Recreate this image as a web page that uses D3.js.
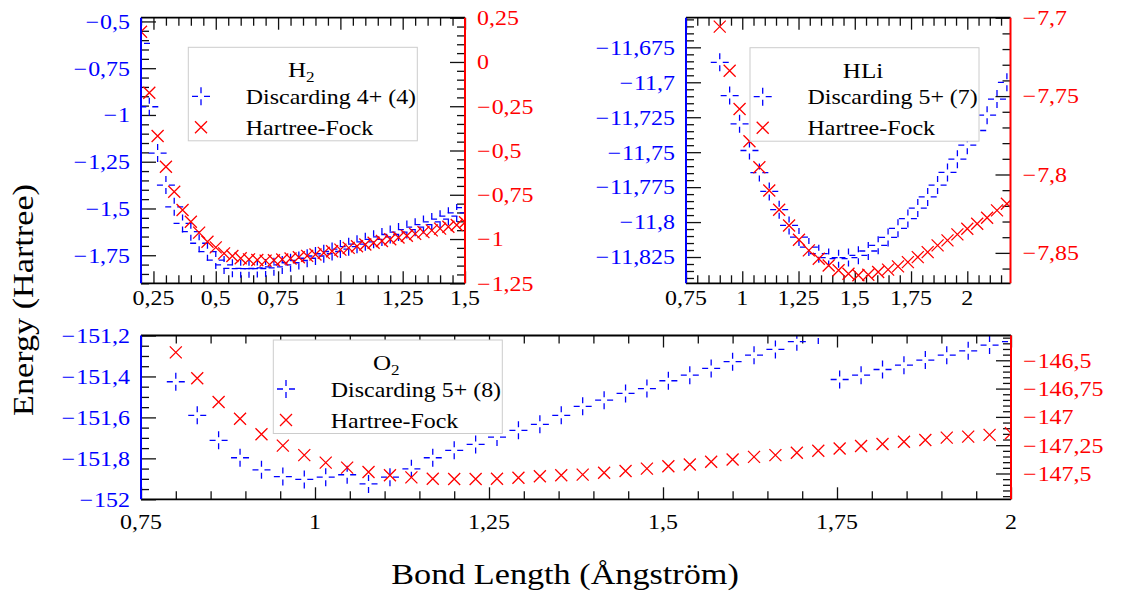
<!DOCTYPE html>
<html>
<head>
<meta charset="utf-8">
<script src="https://cdn.jsdelivr.net/npm/d3@7"></script>
<style>
  body { margin: 0; background: #fff; }
  svg { display: block; }
</style>
</head>
<body>
<svg id="chart" width="1124" height="594"></svg>
<script>
// ---------- H2 ----------
const h2Bond = [0.2, 0.2333, 0.2667, 0.3, 0.3333, 0.3667, 0.4, 0.4333, 0.4667, 0.5,
  0.5333, 0.5667, 0.6, 0.6333, 0.6667, 0.7, 0.7333, 0.7667, 0.8, 0.8333,
  0.8667, 0.9, 0.9333, 0.9667, 1.0, 1.0333, 1.0667, 1.1, 1.1333, 1.1667,
  1.2, 1.2333, 1.2667, 1.3, 1.3333, 1.3667, 1.4, 1.4333, 1.4667, 1.5];
const h2Discard = [-0.617, -0.956, -1.204, -1.375, -1.491, -1.580, -1.624, -1.686, -1.731, -1.776,
  -1.802, -1.820, -1.822, -1.822, -1.821, -1.818, -1.812, -1.802, -1.790, -1.778,
  -1.766, -1.754, -1.742, -1.730, -1.717, -1.704, -1.691, -1.678, -1.665, -1.652,
  -1.639, -1.626, -1.613, -1.600, -1.586, -1.572, -1.557, -1.541, -1.524, -1.495];
const h2HF = [0.171, -0.174, -0.418, -0.592, -0.733, -0.836, -0.902, -0.964, -1.015, -1.047,
  -1.081, -1.096, -1.109, -1.115, -1.118, -1.122, -1.120, -1.116, -1.110, -1.103,
  -1.095, -1.087, -1.078, -1.069, -1.060, -1.050, -1.041, -1.031, -1.021, -1.011,
  -1.001, -0.991, -0.981, -0.971, -0.961, -0.951, -0.941, -0.931, -0.921, -0.905];
const h2XTicks = [0.25, 0.5, 0.75, 1, 1.25, 1.5];
const h2LeftTicks = [-1.75, -1.5, -1.25, -1, -0.75, -0.5];
const h2RightTicks = [-1.25, -1, -0.75, -0.5, -0.25, 0, 0.25];

// ---------- HLi ----------
const hliBond = [0.9, 0.944, 0.988, 1.032, 1.076, 1.12, 1.164, 1.208, 1.252, 1.296,
  1.34, 1.384, 1.428, 1.472, 1.516, 1.56, 1.604, 1.648, 1.692, 1.736,
  1.78, 1.824, 1.868, 1.912, 1.956, 2.0, 2.044, 2.088, 2.132, 2.176];
const hliDiscard = [-11.6857, -11.7095, -11.7297, -11.7488, -11.7646, -11.7781, -11.7911, -11.8024, -11.8107, -11.8179,
  -11.8226, -11.8254, -11.8262, -11.8254, -11.8238, -11.8207, -11.8166, -11.8110, -11.8045, -11.7975,
  -11.7900, -11.7820, -11.7735, -11.7645, -11.7550, -11.7450, -11.7345, -11.7235, -11.7120, -11.7000];
const hliHF = [-7.7057, -7.7338, -7.7582, -7.7788, -7.7954, -7.8102, -7.8225, -7.8325, -7.8416, -7.8484,
  -7.8537, -7.8580, -7.8611, -7.8633, -7.8643, -7.8640, -7.8622, -7.8607, -7.8586, -7.8559,
  -7.8527, -7.8495, -7.8452, -7.8420, -7.8382, -7.8346, -7.8314, -7.8276, -7.8229, -7.8187];
const hliXTicks = [0.75, 1, 1.25, 1.5, 1.75, 2];
const hliLeftTicks = [-11.825, -11.8, -11.775, -11.75, -11.725, -11.7, -11.675];
const hliRightTicks = [-7.85, -7.8, -7.75, -7.7];

// ---------- O2 ----------
const o2Bond = [0.8, 0.8308, 0.8615, 0.8923, 0.9231, 0.9538, 0.9846, 1.0154, 1.0462, 1.0769,
  1.1077, 1.1385, 1.1692, 1.2, 1.2308, 1.2615, 1.2923, 1.3231, 1.3538, 1.3846,
  1.4154, 1.4462, 1.4769, 1.5077, 1.5385, 1.5692, 1.6, 1.6308, 1.6615, 1.6923,
  1.7231, 1.7538, 1.7846, 1.8154, 1.8462, 1.8769, 1.9077, 1.9385, 1.9692, 2.0];
const o2Discard = [-151.426, -151.590, -151.712, -151.797, -151.856, -151.889, -151.903, -151.892, -151.880, -151.925,
  -151.892, -151.851, -151.797, -151.761, -151.732, -151.696, -151.663, -151.634, -151.590, -151.546,
  -151.516, -151.483, -151.459, -151.421, -151.394, -151.361, -151.328, -151.296, -151.268, -151.230,
  -151.198, -151.415, -151.394, -151.366, -151.345, -151.320, -151.296, -151.275, -151.247, -151.230];
const o2HF = [-146.430, -146.659, -146.868, -147.016, -147.154, -147.254, -147.338, -147.404, -147.448, -147.487,
  -147.516, -147.534, -147.546, -147.549, -147.549, -147.546, -147.537, -147.525, -147.516, -147.510,
  -147.493, -147.478, -147.457, -147.436, -147.421, -147.397, -147.377, -147.353, -147.338, -147.317,
  -147.299, -147.279, -147.257, -147.239, -147.219, -147.204, -147.183, -147.174, -147.159, -147.145];
const o2XTicks = [0.75, 1, 1.25, 1.5, 1.75, 2];
const o2LeftTicks = [-152, -151.8, -151.6, -151.4, -151.2];
const o2RightTicks = [-147.5, -147.25, -147, -146.75, -146.5];

const seriesNames = ["Hartree-Fock"];

const BLUE = "#0000ff", RED = "#ff0000", INK = "#000";
const FONT = "'Liberation Serif', 'DejaVu Serif', serif";
const SX = 1.14;   // the serif face is set a little wide
const svg = d3.select("#chart");
const defs = svg.append("defs");

// text placed at (x, y), widened horizontally by SX
function wideText(parent, x, y, size, fill, anchor, extra) {
  const g = parent.append("g").attr("transform", `translate(${x},${y}) ${extra || ""} scale(${SX},1)`);
  return g.append("text").attr("x", 0).attr("y", 0)
    .attr("text-anchor", anchor).attr("font-size", size)
    .attr("font-family", FONT).attr("fill", fill);
}

// number -> "−1,25" with a math minus and a decimal comma
function tickText(sel, v) {
  const s = String(+Math.abs(v).toFixed(4)).replace(".", ",");
  if (v < 0) {
    sel.append("tspan").text("\u2212");
    sel.append("tspan").attr("dx", 1).text(s);
  } else {
    sel.append("tspan").text(s);
  }
}

function minorRange(lo, hi, step, majors) {
  const out = [];
  const start = Math.ceil(lo / step - 1e-6) * step;
  const n = Math.floor((hi - start) / step + 1e-6);
  for (let i = 0; i <= n; i++) {
    const v = +(start + i * step).toFixed(6);
    if (!majors.some(m => Math.abs(m - v) < step / 10)) out.push(v);
  }
  return out;
}

function plusMark(g, cx, cy) {
  const a = 3, b = 9;
  g.append("path")
    .attr("d", `M${cx - b},${cy}H${cx - a}M${cx + a},${cy}H${cx + b}M${cx},${cy - b}V${cy - a}M${cx},${cy + a}V${cy + b}`)
    .attr("stroke", BLUE).attr("stroke-width", 1.3).attr("fill", "none");
}
function crossMark(g, cx, cy) {
  const r = 6;
  g.append("path")
    .attr("d", `M${cx - r},${cy - r}L${cx + r},${cy + r}M${cx - r},${cy + r}L${cx + r},${cy - r}`)
    .attr("stroke", RED).attr("stroke-width", 1.3).attr("fill", "none");
}

function panel(c) {
  const g = svg.append("g");
  const x = d3.scaleLinear().domain(c.xDomain).range([c.left, c.right]);
  const yL = d3.scaleLinear().domain(c.yLDomain).range([c.bottom, c.top]);
  const yR = d3.scaleLinear().domain(c.yRDomain).range([c.bottom, c.top]);

  const clipId = "clip-" + c.id;
  defs.append("clipPath").attr("id", clipId).append("rect")
    .attr("x", c.left).attr("y", c.top)
    .attr("width", c.right - c.left).attr("height", c.bottom - c.top);

  // ticks pointing inward on all four sides
  const tickG = g.append("g");
  const xMin = minorRange(c.xDomain[0], c.xDomain[1], c.xMinor, c.xTicks);
  const lMin = minorRange(c.yLDomain[0], c.yLDomain[1], c.yLMinor, c.yLTicks);
  const rMin = minorRange(c.yRDomain[0], c.yRDomain[1], c.yRMinor, c.yRTicks);
  const specs = [
    [() => d3.axisBottom(x), `translate(0,${c.bottom})`, c.xTicks, xMin, c.xMajorLen],
    [() => d3.axisTop(x), `translate(0,${c.top})`, c.xTicks, xMin, c.xMajorLen],
    [() => d3.axisLeft(yL), `translate(${c.left},0)`, c.yLTicks, lMin, c.yMajorLen],
    [() => d3.axisRight(yR), `translate(${c.right},0)`, c.yRTicks, rMin, c.yMajorLen],
  ];
  specs.forEach(([make, tr, maj, mins, len]) => {
    tickG.append("g").attr("transform", tr)
      .call(make().tickValues(maj).tickSize(-len).tickFormat(""));
    tickG.append("g").attr("transform", tr)
      .call(make().tickValues(mins).tickSize(-c.minorLen).tickFormat(""));
  });
  tickG.selectAll(".domain").remove();
  tickG.selectAll(".tick line").attr("stroke", "#111").attr("stroke-width", 1.3);

  // data markers, clipped to the plot area
  const dg = g.append("g").attr("clip-path", `url(#${clipId})`);
  c.bond.forEach((b, i) => plusMark(dg, x(b), yL(c.discard[i])));
  c.bond.forEach((b, i) => crossMark(dg, x(b), yR(c.hf[i])));

  // frame: black top/bottom, blue left, red right
  g.append("line").attr("x1", c.left).attr("x2", c.right).attr("y1", c.top).attr("y2", c.top)
    .attr("stroke", INK).attr("stroke-width", 1.8);
  g.append("line").attr("x1", c.left).attr("x2", c.right).attr("y1", c.bottom).attr("y2", c.bottom)
    .attr("stroke", INK).attr("stroke-width", 1.8);
  g.append("line").attr("x1", c.left).attr("x2", c.left).attr("y1", c.top).attr("y2", c.bottom)
    .attr("stroke", BLUE).attr("stroke-width", 2);
  g.append("line").attr("x1", c.right).attr("x2", c.right).attr("y1", c.top).attr("y2", c.bottom)
    .attr("stroke", RED).attr("stroke-width", 2);

  // tick labels
  const fs = 21;
  c.xTicks.forEach(v => tickText(wideText(g, x(v), c.bottom + c.xLabelGap, fs, INK, "middle"), v));
  c.yLTicks.forEach(v => tickText(wideText(g, c.left - 11, yL(v), fs, BLUE, "end").attr("dy", "0.35em"), v));
  c.yRTicks.forEach(v => tickText(wideText(g, c.right + 12, yR(v), fs, RED, "start").attr("dy", "0.35em"), v));

  // legend
  const L = c.legend;
  const lg = g.append("g").attr("transform", `translate(${L.x},${L.y})`);
  lg.append("rect").attr("width", 229).attr("height", 93.5)
    .attr("fill", "#fff").attr("stroke", "#cccccc").attr("stroke-width", 1);
  const title = wideText(lg, 113, 30, 22, INK, "middle");
  title.append("tspan").text(c.title[0]);
  if (c.title[1]) title.append("tspan").attr("dy", 5).attr("font-size", 15).text(c.title[1]);
  plusMark(lg, 12.7, 49);
  crossMark(lg, 12.7, 80);
  wideText(lg, 57.5, 56.5, 21, INK, "start").text(c.discardLabel);
  wideText(lg, 57.5, 87.5, 21, INK, "start").text(seriesNames[0]);
}

panel({
  id: "h2", title: ["H", "2"], discardLabel: "Discarding 4+ (4)",
  left: 141, right: 465, top: 17.7, bottom: 283.3,
  xDomain: [0.2, 1.5], yLDomain: [-1.9, -0.48], yRDomain: [-1.25, 0.25],
  xTicks: h2XTicks, yLTicks: h2LeftTicks, yRTicks: h2RightTicks,
  xMinor: 0.05, yLMinor: 0.05, yRMinor: 0.05,
  xMajorLen: 12, yMajorLen: 15, minorLen: 8, xLabelGap: 22,
  bond: h2Bond, discard: h2Discard, hf: h2HF,
  legend: { x: 188.3, y: 47.3 }
});

panel({
  id: "hli", title: ["HLi"], discardLabel: "Discarding 5+ (7)",
  left: 686, right: 1010.5, top: 17.7, bottom: 283.3,
  xDomain: [0.75, 2.192], yLDomain: [-11.8438, -11.6538], yRDomain: [-7.8694, -7.7],
  xTicks: hliXTicks, yLTicks: hliLeftTicks, yRTicks: hliRightTicks,
  xMinor: 0.05, yLMinor: 0.005, yRMinor: 0.01,
  xMajorLen: 12, yMajorLen: 15, minorLen: 8, xLabelGap: 22,
  bond: hliBond, discard: hliDiscard, hf: hliHF,
  legend: { x: 750, y: 47.7 }
});

panel({
  id: "o2", title: ["O", "2"], discardLabel: "Discarding 5+ (8)",
  left: 141, right: 1011, top: 335.5, bottom: 499.3,
  xDomain: [0.75, 2.0], yLDomain: [-152, -151.2], yRDomain: [-147.728, -146.281],
  xTicks: o2XTicks, yLTicks: o2LeftTicks, yRTicks: o2RightTicks,
  xMinor: 0.05, yLMinor: 0.05, yRMinor: 0.05,
  xMajorLen: 12, yMajorLen: 15, minorLen: 8, xLabelGap: 30,
  bond: o2Bond, discard: o2Discard, hf: o2HF,
  legend: { x: 273.3, y: 340 }
});

// shared axis titles
wideText(svg, 33, 300, 30, INK, "middle", "rotate(-90)").text("Energy (Hartree)");
wideText(svg, 565, 584, 30, INK, "middle").text("Bond Length (Ångström)");
</script>
</body>
</html>
